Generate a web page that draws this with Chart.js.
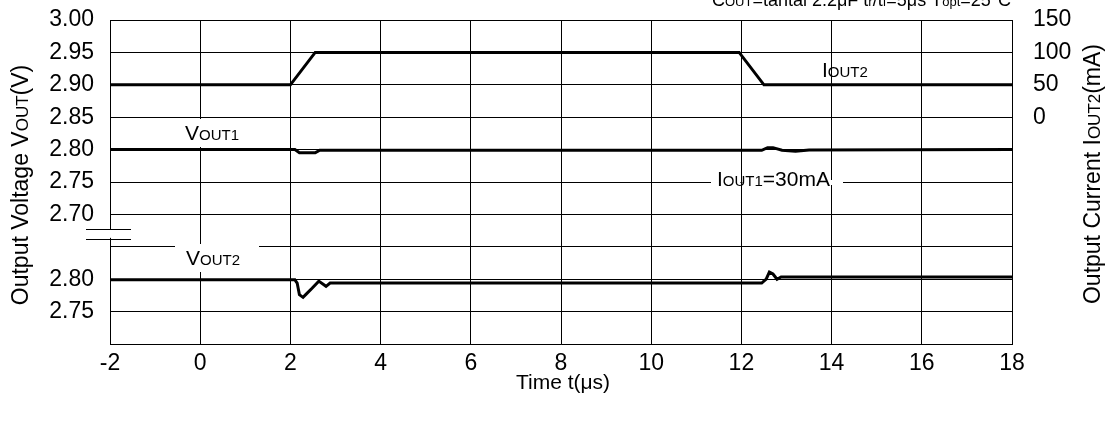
<!DOCTYPE html>
<html>
<head>
<meta charset="utf-8">
<script src="https://cdn.jsdelivr.net/npm/chart.js@4"></script>
<style>
  html, body { margin: 0; padding: 0; background: #fff; }
  #c { display: block; }
</style>
</head>
<body>
<canvas id="c" width="1108" height="421"></canvas>
<script>
// load current step, IOUT2 (mA) vs time (us)
const timeI = [-2, 2.0, 2.55, 11.95, 12.5, 18];
const iout2 = [50, 50, 100, 100, 50, 50];

// VOUT1 (upper trace, V)
const timeV1 = [-2, 2.1, 2.2, 2.55, 2.65, 12.45, 12.58, 12.7, 12.9, 13.2, 13.5, 18];
const vout1 = [2.800, 2.800, 2.795, 2.795, 2.799, 2.799, 2.803, 2.803, 2.799, 2.7975, 2.7995, 2.800];

// VOUT2 (lower trace, V)
const timeV2 = [-2, 2.1, 2.15, 2.2, 2.28, 2.35, 2.48, 2.63, 2.79, 2.88, 12.45, 12.55, 12.62, 12.7, 12.79, 12.88, 18];
const vout2 = [2.799, 2.799, 2.794, 2.776, 2.772, 2.777, 2.786, 2.797, 2.789, 2.794, 2.794, 2.800, 2.811, 2.808, 2.800, 2.8035, 2.8035];

// tick labels, bottom to top (left axis has a break between 2.70 and the lower 2.80)
const leftTickLabels = ['', '2.75', '2.80', '', '2.70', '2.75', '2.80', '2.85', '2.90', '2.95', '3.00'];
const rightTickLabels = ['', '', '', '', '', '', '', '0', '50', '100', '150'];

const FONT = '"Liberation Sans", Arial, sans-serif';
const B = 21, S = 15;     // labels
const TB = 23, TS = 17;   // axis titles

Chart.defaults.font.family = FONT;
Chart.defaults.font.size = 23;
Chart.defaults.color = '#000';

function pts(xs, ys) {
  return xs.map((t, i) => ({ x: t, y: ys[i] }));
}

// text with small-caps style subscripts
function rich(ctx, parts, x, y, align) {
  let w = 0;
  parts.forEach(p => { ctx.font = p[1] + 'px ' + FONT; w += ctx.measureText(p[0]).width; });
  let cx = align === 'center' ? x - w / 2 : align === 'right' ? x - w : x;
  ctx.textAlign = 'left';
  ctx.textBaseline = 'alphabetic';
  parts.forEach(p => {
    ctx.font = p[1] + 'px ' + FONT;
    ctx.fillText(p[0], cx, y);
    cx += ctx.measureText(p[0]).width;
  });
}

function richUp(ctx, parts, x, y) {
  ctx.save();
  ctx.translate(x, y);
  ctx.rotate(-Math.PI / 2);
  rich(ctx, parts, 0, 0, 'center');
  ctx.restore();
}

const overlay = {
  id: 'overlay',
  beforeDatasetsDraw(chart) {
    const ctx = chart.ctx;
    const xs = chart.scales.x, ys = chart.scales.y;
    const yb = ys.getPixelForValue(2.67);
    const left = chart.chartArea.left;
    ctx.save();
    ctx.fillStyle = '#fff';
    // label backgrounds
    ctx.fillRect(181, 119, 63, 28);
    ctx.fillRect(175, 244, 84, 28);
    const x12 = xs.getPixelForValue(12);
    ctx.fillRect(711, 180, x12 - 1 - 711, 5);
    ctx.fillRect(x12 + 1, 180, 843 - x12 - 1, 5);
    // axis break
    ctx.fillRect(left - 3, yb - 4, 6, 8);
    ctx.strokeStyle = '#000';
    ctx.lineWidth = 1;
    ctx.beginPath();
    ctx.moveTo(86, Math.round(yb - 5) + 0.5);
    ctx.lineTo(131, Math.round(yb - 5) + 0.5);
    ctx.moveTo(86, Math.round(yb + 5) + 0.5);
    ctx.lineTo(131, Math.round(yb + 5) + 0.5);
    ctx.stroke();
    ctx.restore();
  },
  afterDraw(chart) {
    const ctx = chart.ctx;
    ctx.save();
    ctx.fillStyle = '#000';
    rich(ctx, [['C', 18], ['OUT', 13], ['=tantal 2.2\u03bcF t', 18], ['r', 13], ['/t', 18], ['f', 13], ['=5\u03bcs T', 18], ['opt', 13], ['=25\u00b0C', 18]], 1011, 6, 'right');
    rich(ctx, [['V', B], ['OUT1', S]], 185, 140, 'left');
    rich(ctx, [['V', B], ['OUT2', S]], 186, 265, 'left');
    rich(ctx, [['I', B], ['OUT2', S]], 822, 77, 'left');
    rich(ctx, [['I', B], ['OUT1', S], ['=30mA', B]], 717, 186, 'left');
    rich(ctx, [['Time t(\u03bcs)', B]], 563, 389, 'center');
    richUp(ctx, [['Output Voltage V', TB], ['OUT', TS], ['(V)', TB]], 28, 185);
    richUp(ctx, [['Output Current I', TB], ['OUT2', TS], ['(mA)', TB]], 1100, 174);
    ctx.restore();
  }
};

const lineStyle = {
  borderColor: '#000',
  borderWidth: 3,
  pointRadius: 0,
  tension: 0,
  fill: false
};

function fixWidth(w) {
  return function (s) {
    s.width = w;
    s.paddingTop = 0;
    s.paddingBottom = 0;
  };
}

new Chart(document.getElementById('c'), {
  type: 'line',
  data: {
    datasets: [
      Object.assign({ label: 'IOUT2', data: pts(timeI, iout2), yAxisID: 'y2' }, lineStyle),
      Object.assign({ label: 'VOUT1', data: pts(timeV1, vout1), yAxisID: 'y' }, lineStyle),
      Object.assign({ label: 'VOUT2', data: pts(timeV2, vout2), yAxisID: 'y3' }, lineStyle)
    ]
  },
  options: {
    responsive: false,
    animation: false,
    devicePixelRatio: 1,
    events: [],
    layout: { padding: { left: 0, right: 0, top: 20, bottom: 0 } },
    plugins: {
      legend: { display: false },
      tooltip: { enabled: false }
    },
    scales: {
      x: {
        type: 'linear',
        min: -2,
        max: 18,
        ticks: { stepSize: 2, padding: 6, autoSkip: false, maxRotation: 0 },
        grid: { color: '#000', drawTicks: false },
        border: { color: '#000' },
        afterFit(s) { s.height = 77; s.paddingLeft = 0; s.paddingRight = 0; }
      },
      y: {
        type: 'linear',
        position: 'left',
        min: 2.5,
        max: 3.0,
        ticks: { stepSize: 0.05, padding: 16, autoSkip: false, callback: (v, i) => leftTickLabels[i] },
        grid: { color: '#000', drawTicks: false },
        border: { color: '#000' },
        afterFit: fixWidth(110)
      },
      y2: {
        type: 'linear',
        position: 'right',
        min: -350,
        max: 150,
        ticks: { stepSize: 50, padding: 21, autoSkip: false, callback: (v, i) => rightTickLabels[i] },
        grid: { display: false, drawTicks: false },
        border: { display: false },
        afterFit: fixWidth(96)
      },
      y3: {
        type: 'linear',
        display: false,
        min: 2.70,
        max: 3.20
      }
    }
  },
  plugins: [overlay]
});
</script>
</body>
</html>
